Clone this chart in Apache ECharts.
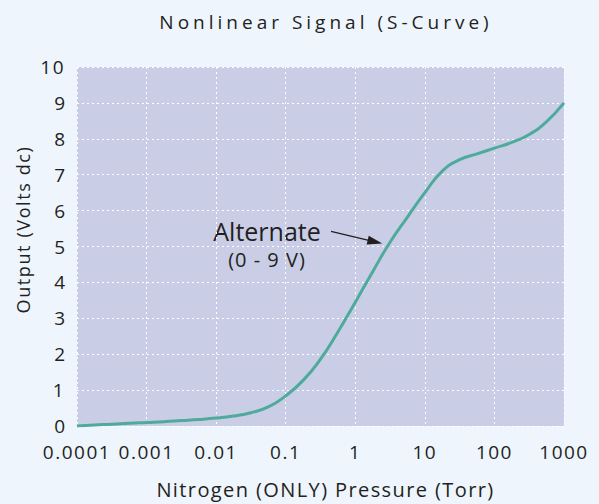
<!DOCTYPE html>
<html>
<head>
<meta charset="utf-8">
<script src="https://cdn.jsdelivr.net/npm/echarts@6/dist/echarts.min.js"></script>
<style>
html,body{margin:0;padding:0;background:#eef5fc;}
#chart{width:599px;height:504px;}
</style>
</head>
<body>
<div id="chart"></div>
<script>
// Data (quarter-decade steps of pressure)
const pressureTorr = [0.0001, 0.000178, 0.000316, 0.000562, 0.001, 0.00178, 0.00316, 0.00562, 0.01, 0.0178, 0.0316, 0.0562, 0.1, 0.178, 0.316, 0.562, 1, 1.78, 3.16, 5.62, 10, 17.8, 31.6, 56.2, 100, 178, 316, 562, 1000];
const outputVolts  = [0, 0.03, 0.05, 0.08, 0.10, 0.12, 0.15, 0.18, 0.22, 0.28, 0.37, 0.53, 0.84, 1.27, 1.86, 2.62, 3.45, 4.3, 5.12, 5.82, 6.5, 7.1, 7.42, 7.58, 7.74, 7.9, 8.12, 8.48, 9.0];
const xTickLabels = ['0.0001', '0.001', '0.01', '0.1', '1', '10', '100', '1000'];
const yTickLabels = ['0','1','2','3','4','5','6','7','8','9','10'];
const arrowFrom = [0.448, 5.42];
const arrowTo = [1.92, 5.13];
const titleText = 'Nonlinear Signal (S-Curve)';
const xName = 'Nitrogen (ONLY) Pressure (Torr)';
const yName = 'Output (Volts dc)';
const noteMain = 'Alternate';
const noteSub = '(0 - 9 V)';

const FONT = '"Open Sans", "Noto Sans", sans-serif';
const TXT = '#231f20';

const chart = echarts.init(document.getElementById('chart'), null, {renderer: 'svg'});
const option = {
  animation: false,
  backgroundColor: '#eef5fc',
  title: {
    text: titleText,
    left: 321, top: 7, textAlign: 'center',
    textStyle: {fontFamily: FONT, fontSize: 19, fontWeight: 'normal', color: TXT}
  },
  grid: {left: 77, right: 35, top: 67, bottom: 76, show: true, backgroundColor: '#c9cde6', borderWidth: 0},
  xAxis: {
    type: 'log', logBase: 10, min: 0.0001, max: 1000,
    name: xName, nameLocation: 'middle', nameGap: 53,
    nameTextStyle: {fontFamily: FONT, fontSize: 20, color: TXT, padding: [0,0,0,10]},
    axisLine: {show: false}, axisTick: {show: false},
    axisLabel: {
      margin: 16, fontFamily: FONT, fontSize: 19, color: TXT,
      formatter: v => xTickLabels[Math.round(Math.log10(v)) + 4]
    },
    splitLine: {show: true, lineStyle: {color: '#ffffff', type: [2, 3], width: 1}}
  },
  yAxis: {
    type: 'value', min: 0, max: 10, interval: 1,
    name: yName, nameLocation: 'middle', nameGap: 44, nameRotate: 90,
    nameTextStyle: {fontFamily: FONT, fontSize: 18, color: TXT, padding: [0,0,0,34]},
    axisLine: {show: false}, axisTick: {show: false},
    axisLabel: {margin: 12, fontFamily: FONT, fontSize: 19, color: TXT,
      formatter: v => yTickLabels[Math.round(v)]},
    splitLine: {show: true, lineStyle: {color: '#ffffff', type: [2, 3], width: 1}}
  },
  graphic: [
    {type: 'text', x: 267, y: 231, style: {text: noteMain, align: 'center', verticalAlign: 'middle', font: '25px ' + FONT, fill: TXT}},
    {type: 'text', x: 267, y: 259, style: {text: noteSub, align: 'center', verticalAlign: 'middle', font: '20px ' + FONT, fill: TXT}}
  ],
  series: [{
    type: 'line',
    data: pressureTorr.map((p, i) => [p, outputVolts[i]]),
    showSymbol: false,
    smooth: 0.5,
    lineStyle: {color: '#4eab9b', width: 3},
    itemStyle: {color: '#4eab9b'},
    markLine: {
      silent: true,
      symbol: ['none', 'triangle'],
      symbolSize: [9, 15],
      label: {show: false},
      lineStyle: {color: '#231f20', width: 1.2, type: 'solid'},
      data: [[{coord: arrowFrom}, {coord: arrowTo}]]
    }
  }]
};
chart.setOption(option);
chart.getZr().flush && chart.getZr().flush();
function spaceText(){
  const spacing = {};
  spacing[titleText] = 4; spacing[xName] = 1.4; spacing[yName] = 1.6;
  spacing[noteSub] = 1;
  xTickLabels.forEach(t => spacing[t] = 1.5);
  document.querySelectorAll('#chart svg text').forEach(t => {
    const s = spacing[t.textContent];
    if (s) t.setAttribute('letter-spacing', s + 'px');
  });
}
spaceText();
chart.on('finished', spaceText);
</script>
</body>
</html>
